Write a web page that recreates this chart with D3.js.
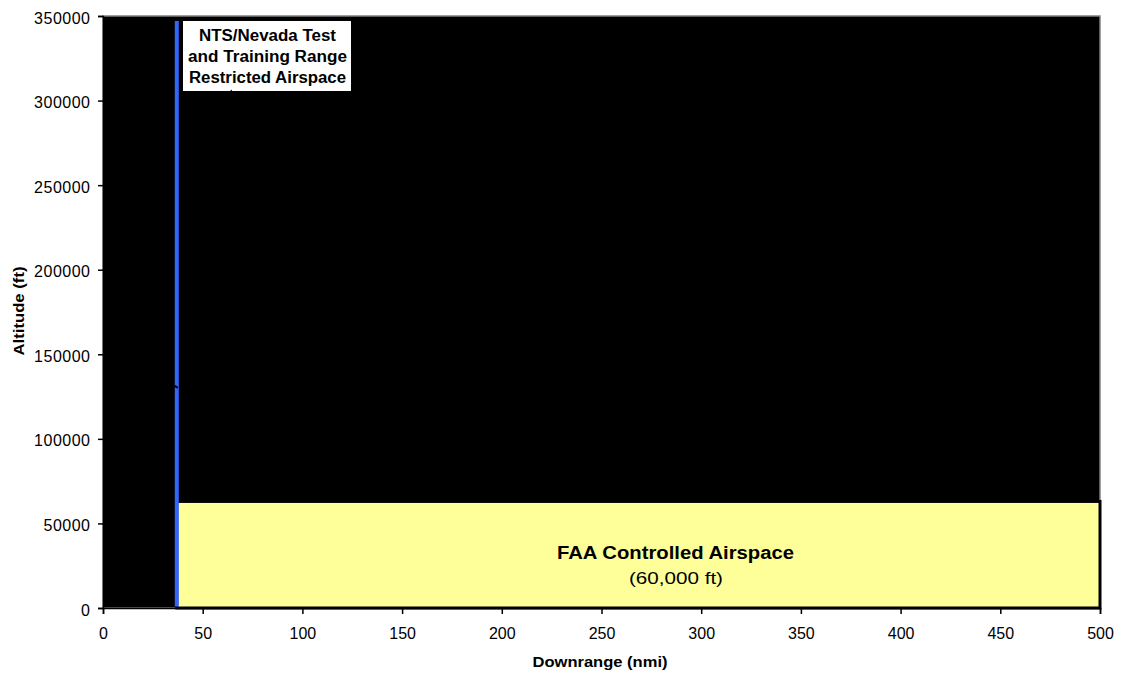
<!DOCTYPE html>
<html>
<head>
<meta charset="utf-8">
<script src="https://cdn.jsdelivr.net/npm/d3@7"></script>
<style>
  html, body { margin: 0; padding: 0; background: #fff; }
  svg { display: block; font-family: Arial, "Liberation Sans", sans-serif; }
</style>
</head>
<body>
<svg id="chart" width="1124" height="675"></svg>
<script>
// ---- Data ----
const xTicks = [0, 50, 100, 150, 200, 250, 300, 350, 400, 450, 500];
const yTicks = [0, 50000, 100000, 150000, 200000, 250000, 300000, 350000];
const xDomain = [0, 500];
const yDomain = [0, 350000];
// NTS restricted-airspace boundary (downrange nmi, altitude ft)
const ntsBoundaryX = [37, 37];
const ntsBoundaryY = [0, 347000];
// FAA controlled airspace block
const faaX = [37, 500];
const faaY = [0, 63000];
const ntsLabel = ["NTS/Nevada Test", "and Training Range", "Restricted Airspace"];
const faaLabel = ["FAA Controlled Airspace", "(60,000 ft)"];
const xTitle = "Downrange (nmi)";
const yTitle = "Altitude (ft)";

// ---- Layout ----
const svg = d3.select("#chart");
const L = 103, R = 1100, T = 16, B = 608;
const x = d3.scaleLinear().domain(xDomain).range([L, R]);
const y = d3.scaleLinear().domain(yDomain).range([B, T]);

// plot area
svg.append("rect").attr("x", L).attr("y", T).attr("width", R - L).attr("height", B - T)
  .attr("fill", "#000").attr("stroke", "#808080").attr("stroke-width", 1.5);

// FAA block
svg.append("rect")
  .attr("x", x(faaX[0])).attr("y", y(faaY[1]))
  .attr("width", x(faaX[1]) - x(faaX[0])).attr("height", y(faaY[0]) - y(faaY[1]))
  .attr("fill", "#FFFF99").attr("stroke", "#000").attr("stroke-width", 3);

// NTS boundary line
svg.append("line")
  .attr("x1", x(ntsBoundaryX[0])).attr("x2", x(ntsBoundaryX[1]))
  .attr("y1", y(ntsBoundaryY[0]) - 1.5).attr("y2", y(ntsBoundaryY[1]))
  .attr("stroke", "#3366FF").attr("stroke-width", 4);

// small marker on boundary
svg.append("line")
  .attr("x1", x(ntsBoundaryX[0]) - 2).attr("x2", x(ntsBoundaryX[0]) + 1)
  .attr("y1", y(130700) - 1).attr("y2", y(130700) + 1)
  .attr("stroke", "#000").attr("stroke-width", 2);

// Axes
const xAxis = d3.axisBottom(x).tickValues(xTicks).tickSize(6).tickFormat(d3.format("d"));
const yAxis = d3.axisLeft(y).tickValues(yTicks).tickSize(5).tickFormat(d3.format("d"));
const gx = svg.append("g").attr("transform", `translate(0,${B})`).call(xAxis);
const gy = svg.append("g").attr("transform", `translate(${L},0)`).call(yAxis);
[gx, gy].forEach(g => {
  g.select(".domain").attr("stroke", "#000").attr("stroke-width", 1.5);
  g.selectAll(".tick line").attr("stroke", "#000").attr("stroke-width", 1.5);
  g.selectAll(".tick text").attr("fill", "#000").style("font-size", "16px")
    .style("font-family", "Arial, 'Liberation Sans', sans-serif");
});
gx.selectAll(".tick text").attr("y", 31).attr("dy", null);
gy.selectAll(".tick text").attr("x", -12.5).attr("dy", "7px").style("letter-spacing", "0.5px");

// axis titles
svg.append("text").attr("x", 600).attr("y", 667).attr("text-anchor", "middle")
  .attr("textLength", 135).attr("lengthAdjust", "spacingAndGlyphs")
  .style("font-size", "15.5px").style("font-weight", "bold").text(xTitle);
svg.append("text").attr("transform", `translate(24,311) rotate(-90)`)
  .attr("text-anchor", "middle").attr("textLength", 89).attr("lengthAdjust", "spacingAndGlyphs")
  .style("font-size", "15.5px").style("font-weight", "bold").text(yTitle);

// NTS label box
const boxX = 183, boxY = 21, boxW = 168, boxH = 70;
svg.append("rect").attr("x", boxX).attr("y", boxY).attr("width", boxW).attr("height", boxH).attr("fill", "#fff");
const ntsWidths = [137, 159, 157];
ntsLabel.forEach((t, i) => {
  svg.append("text").attr("x", boxX + boxW / 2 + 0.5).attr("y", 41 + i * 21.2).attr("text-anchor", "middle")
    .attr("textLength", ntsWidths[i]).attr("lengthAdjust", "spacingAndGlyphs")
    .style("font-size", "16px").style("font-weight", "bold").attr("fill", "#000").text(t);
});
svg.append("line").attr("x1", 228).attr("y1", 93).attr("x2", 232).attr("y2", 90)
  .attr("stroke", "#000").attr("stroke-width", 1);

// FAA label
svg.append("text").attr("x", 675.5).attr("y", 559).attr("text-anchor", "middle")
  .attr("textLength", 237).attr("lengthAdjust", "spacingAndGlyphs")
  .style("font-size", "17.5px").style("font-weight", "bold").attr("fill", "#000").text(faaLabel[0]);
svg.append("text").attr("x", 676).attr("y", 584).attr("text-anchor", "middle")
  .attr("textLength", 94).attr("lengthAdjust", "spacingAndGlyphs")
  .style("font-size", "16.5px").attr("fill", "#000").text(faaLabel[1]);
</script>
</body>
</html>
